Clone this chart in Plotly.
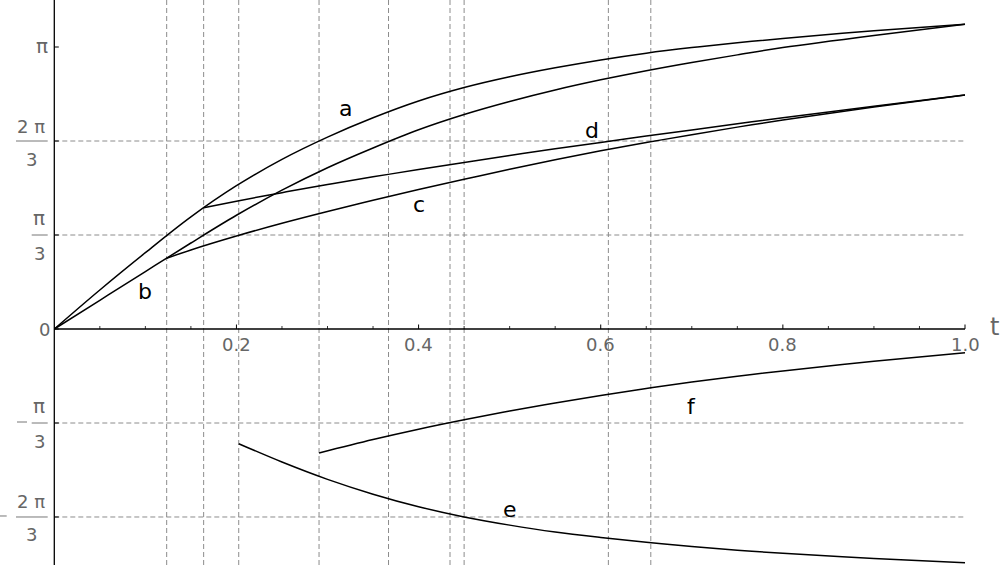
import plotly.graph_objects as go
import math

PI = math.pi

# ---- data ----
ab_t = [0, 0.05, 0.1, 0.15, 0.2, 0.25, 0.3, 0.35, 0.4, 0.45, 0.5, 0.55, 0.6, 0.65, 0.7, 0.75, 0.8, 0.9, 1.0]
a_y = [0, 0.435, 0.85, 1.249, 1.596, 1.89, 2.138, 2.353, 2.54, 2.69, 2.81, 2.91, 2.998, 3.073, 3.135, 3.189, 3.237, 3.322, 3.394]
b_y = [0, 0.32, 0.64, 0.958, 1.267, 1.547, 1.797, 2.017, 2.22, 2.39, 2.535, 2.663, 2.776, 2.878, 2.97, 3.054, 3.135, 3.27, 3.394]

c_t = [0.1234, 0.15, 0.2, 0.25, 0.3, 0.35, 0.4, 0.45, 0.5, 0.55, 0.6, 0.65, 0.7, 0.75, 0.8, 0.9, 1.0]
c_y = [0.788, 0.881, 1.036, 1.178, 1.309, 1.434, 1.554, 1.668, 1.78, 1.885, 1.985, 2.077, 2.165, 2.249, 2.329, 2.472, 2.607]

d_t = [0.164, 0.2, 0.25, 0.3, 0.35, 0.4, 0.45, 0.5, 0.55, 0.6, 0.65, 0.7, 0.75, 0.8, 0.9, 1.0]
d_y = [1.351, 1.424, 1.519, 1.609, 1.695, 1.777, 1.856, 1.933, 2.007, 2.079, 2.149, 2.218, 2.286, 2.353, 2.481, 2.607]

e_t = [0.2025, 0.25, 0.3, 0.35, 0.4, 0.45, 0.5, 0.55, 0.6, 0.65, 0.7, 0.75, 0.8, 0.9, 1.0]
e_y = [-1.278, -1.482, -1.675, -1.84, -1.98, -2.094, -2.185, -2.262, -2.323, -2.377, -2.424, -2.464, -2.499, -2.557, -2.603]

f_t = [0.2907, 0.35, 0.4, 0.45, 0.5, 0.55, 0.6, 0.65, 0.7, 0.75, 0.8, 0.9, 1.0]
f_y = [-1.381, -1.231, -1.116, -1.011, -0.914, -0.824, -0.740, -0.662, -0.590, -0.526, -0.467, -0.360, -0.264]

curve_names = ["a", "b", "c", "d", "e", "f"]
label_t = [0.32, 0.10, 0.40, 0.59, 0.50, 0.70]
label_y = [2.459, 0.416, 1.389, 2.209, -2.011, -0.858]

grid_t = [0.1234, 0.164, 0.2025, 0.2907, 0.367, 0.4345, 0.45, 0.6084, 0.655]
grid_y = [PI / 3, 2 * PI / 3, -PI / 3, -2 * PI / 3]

xtick_major = [0.2, 0.4, 0.6, 0.8, 1.0]
xtick_labels = ["0.2", "0.4", "0.6", "0.8", "1.0"]
xtick_minor = [0.05, 0.1, 0.15, 0.25, 0.3, 0.35, 0.45, 0.5, 0.55, 0.65, 0.7, 0.75, 0.85, 0.9, 0.95]
ytick_vals = [PI, 2 * PI / 3, PI / 3, 0, -PI / 3, -2 * PI / 3]

# ---- figure ----
W, H = 1000, 565
px_per_t = 910.7
x0_px = 54.3
px_per_y = 89.76
y0_px = 329.0
x_range = [-x0_px / px_per_t, (W - x0_px) / px_per_t]
y_range = [-(H - y0_px) / px_per_y, y0_px / px_per_y]

fig = go.Figure()
series = [(ab_t, a_y), (ab_t, b_y), (c_t, c_y), (d_t, d_y), (e_t, e_y), (f_t, f_y)]
for (tt, yy), nm in zip(series, curve_names):
    fig.add_trace(go.Scatter(x=tt, y=yy, mode="lines", name=nm,
                             line=dict(color="black", width=1.5, shape="spline", smoothing=1.0),
                             hoverinfo="skip", showlegend=False))

shapes = []
grid_style = dict(color="#8c8c8c", width=1, dash="5px,3px")
for gt in grid_t:
    shapes.append(dict(type="line", xref="x", yref="paper", x0=gt, x1=gt, y0=0, y1=1,
                       line=grid_style, layer="below"))
for gy in grid_y:
    shapes.append(dict(type="line", xref="x", yref="y", x0=0, x1=1, y0=gy, y1=gy,
                       line=grid_style, layer="below"))
# axes
shapes.append(dict(type="line", xref="x", yref="y", x0=0, x1=1, y0=0, y1=0,
                   line=dict(color="black", width=1.3)))
shapes.append(dict(type="line", xref="x", yref="paper", x0=0, x1=0, y0=0, y1=1,
                   line=dict(color="black", width=1.3)))
# x ticks
for v in xtick_major:
    shapes.append(dict(type="line", xref="x", yref="y", ysizemode="pixel", yanchor=0,
                       x0=v, x1=v, y0=0, y1=4.5, line=dict(color="black", width=1)))
for v in xtick_minor:
    shapes.append(dict(type="line", xref="x", yref="y", ysizemode="pixel", yanchor=0,
                       x0=v, x1=v, y0=0, y1=3, line=dict(color="black", width=0.8)))
# y ticks
for v in ytick_vals:
    shapes.append(dict(type="line", xref="x", yref="y", xsizemode="pixel", xanchor=0,
                       x0=0, x1=4.5, y0=v, y1=v, line=dict(color="black", width=1)))

tick_font = dict(family="DejaVu Sans", size=18, color="#666666")
pi_font = dict(family="DejaVu Sans", size=20, color="#666666")
annotations = []
for v, lab in zip(xtick_major, xtick_labels):
    annotations.append(dict(x=v, y=0, xref="x", yref="y", text=lab, showarrow=False,
                            xanchor="center", yanchor="middle", yshift=-15, font=tick_font))
annotations.append(dict(x=1, y=0, xref="x", yref="y", text="t", showarrow=False,
                        xanchor="center", yanchor="middle", xshift=29, yshift=2,
                        font=dict(family="DejaVu Sans", size=24, color="#666666")))

def ylab(text, v, xs, ys, font=tick_font):
    annotations.append(dict(x=0, y=v, xref="x", yref="y", text=text, showarrow=False,
                            xanchor="center", yanchor="middle", xshift=xs, yshift=ys,
                            font=font))

def bar(v, xa, xb, dy=0):
    shapes.append(dict(type="line", xref="x", yref="y", xsizemode="pixel", xanchor=0,
                       ysizemode="pixel", yanchor=v,
                       x0=xa, x1=xb, y0=dy, y1=dy, line=dict(color="#777777", width=1)))

ylab("π", PI, -12, 1, pi_font)
ylab("0", 0, -10, 0)
# 2π/3
ylab("2 π", 2 * PI / 3, -23, 15)
ylab("3", 2 * PI / 3, -23, -18)
bar(2 * PI / 3, -38.3, -6.6)
# π/3
ylab("π", PI / 3, -15, 17, pi_font)
ylab("3", PI / 3, -15, -18)
bar(PI / 3, -22.6, -6.6)
# -π/3
bar(-PI / 3, -37.3, -27.3, 1)
ylab("π", -PI / 3, -15, 17, pi_font)
ylab("3", -PI / 3, -15, -18)
bar(-PI / 3, -22.6, -6.6)
# -2π/3
bar(-2 * PI / 3, -60, -47.6, 1)
ylab("2 π", -2 * PI / 3, -23, 15)
ylab("3", -2 * PI / 3, -23, -18)
bar(-2 * PI / 3, -38.3, -6.6)

for nm, lt, ly in zip(curve_names, label_t, label_y):
    annotations.append(dict(x=lt, y=ly, xref="x", yref="y", text=nm, showarrow=False,
                            xanchor="center", yanchor="middle",
                            font=dict(family="DejaVu Sans", size=22, color="black")))

fig.update_layout(
    width=W, height=H,
    margin=dict(l=0, r=0, t=0, b=0),
    paper_bgcolor="white", plot_bgcolor="white",
    xaxis=dict(range=x_range, visible=False, fixedrange=True),
    yaxis=dict(range=y_range, visible=False, fixedrange=True),
    shapes=shapes, annotations=annotations,
    showlegend=False,
)
fig.write_html("out.html", config={"displayModeBar": False},
               post_script="document.body.style.margin='0';document.body.style.overflow='hidden';")
